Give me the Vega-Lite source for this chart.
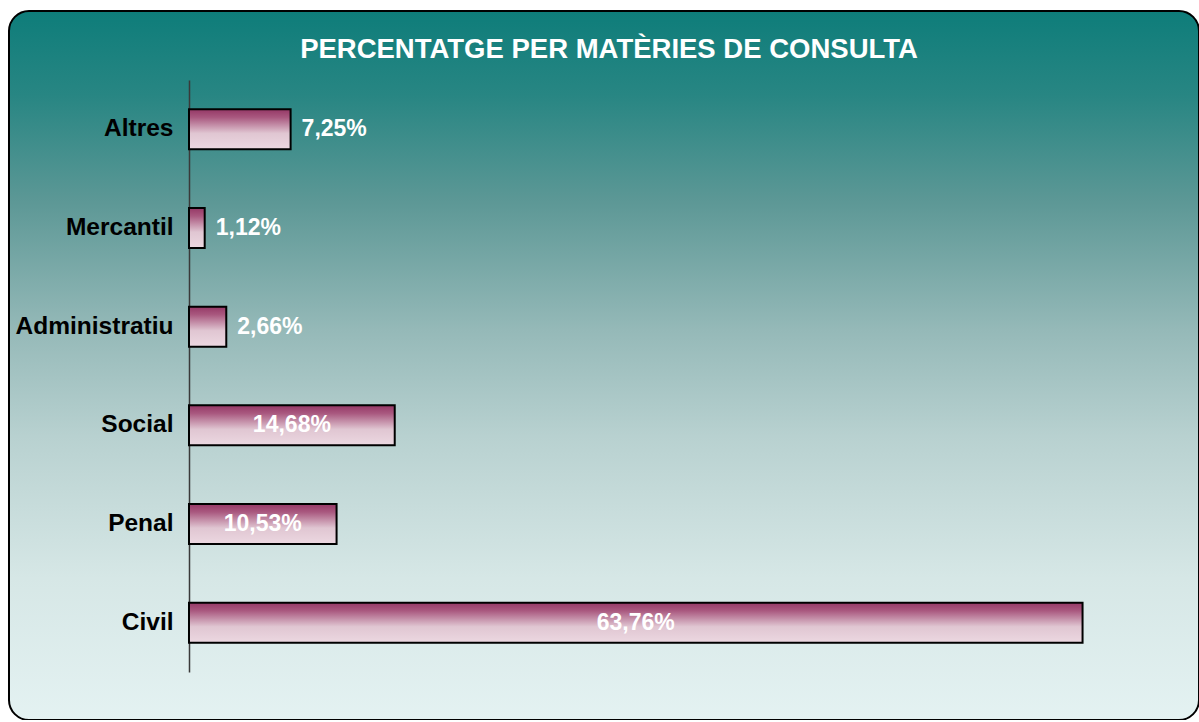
{
  "$schema": "https://vega.github.io/schema/vega-lite/v6.json",
  "width": 1190,
  "height": 709,
  "autosize": {"type": "none"},
  "padding": {"left": 9, "top": 11, "right": 0, "bottom": 0},
  "background": "white",
  "view": {
    "fill": {
      "gradient": "linear", "x1": 0, "y1": 0, "x2": 0, "y2": 1,
      "stops": [
        {"offset": 0, "color": "#0e7d7a"},
        {"offset": 0.12, "color": "#288683"},
        {"offset": 0.27, "color": "#5d9896"},
        {"offset": 0.45, "color": "#95b9b8"},
        {"offset": 0.6, "color": "#b8d1d0"},
        {"offset": 0.8, "color": "#d6e7e6"},
        {"offset": 1, "color": "#e4f2f2"}
      ]
    },
    "stroke": "black",
    "strokeWidth": 2,
    "cornerRadius": 20
  },
  "title": {
    "text": "PERCENTATGE PER MATÈRIES DE CONSULTA",
    "color": "white",
    "font": "Liberation Sans",
    "fontSize": 27.5,
    "fontWeight": "bold",
    "anchor": "middle",
    "frame": "group",
    "baseline": "alphabetic",
    "offset": -74,
    "dx": 5
  },
  "data": {
    "values": [
      {"materia": "Altres", "pct": 7.25, "label": "7,25%"},
      {"materia": "Mercantil", "pct": 1.12, "label": "1,12%"},
      {"materia": "Administratiu", "pct": 2.66, "label": "2,66%"},
      {"materia": "Social", "pct": 14.68, "label": "14,68%"},
      {"materia": "Penal", "pct": 10.53, "label": "10,53%"},
      {"materia": "Civil", "pct": 63.76, "label": "63,76%"}
    ]
  },
  "encoding": {
    "y": {
      "field": "materia",
      "type": "nominal",
      "sort": null,
      "scale": {"range": [69, 661], "paddingInner": 0.595, "paddingOuter": 0.2975},
      "axis": {
        "title": null,
        "orient": "left",
        "offset": -180,
        "ticks": false,
        "labelPadding": 16,
        "labelFont": "Liberation Sans",
        "labelFontSize": 24.5,
        "labelFontWeight": "bold",
        "labelColor": "black",
        "labelLimit": 0,
        "domainColor": "#3a3a3a",
        "domainWidth": 1.5,
        "grid": false
      }
    }
  },
  "layer": [
    {
      "mark": {
        "type": "bar",
        "stroke": "black",
        "strokeWidth": 2,
        "fill": {
          "gradient": "linear", "x1": 0, "y1": 0, "x2": 0, "y2": 1,
          "stops": [
            {"offset": 0, "color": "#953866"},
            {"offset": 0.2, "color": "#a9587f"},
            {"offset": 0.6, "color": "#e0c6d2"},
            {"offset": 1, "color": "#ecd8e1"}
          ]
        }
      },
      "encoding": {
        "x": {
          "field": "pct",
          "type": "quantitative",
          "scale": {"domain": [0, 70], "range": [180, 1161], "nice": false, "zero": true},
          "axis": null
        }
      }
    },
    {
      "transform": [
        {"filter": "datum.pct >= 10"},
        {"calculate": "datum.pct / 2", "as": "mid"}
      ],
      "mark": {
        "type": "text",
        "color": "white",
        "font": "Liberation Sans",
        "fontSize": 23,
        "fontWeight": "bold",
        "align": "center",
        "baseline": "middle"
      },
      "encoding": {
        "x": {"field": "mid", "type": "quantitative"},
        "text": {"field": "label"}
      }
    },
    {
      "transform": [{"filter": "datum.pct < 10"}],
      "mark": {
        "type": "text",
        "color": "white",
        "font": "Liberation Sans",
        "fontSize": 23,
        "fontWeight": "bold",
        "align": "left",
        "baseline": "middle",
        "dx": 11
      },
      "encoding": {
        "x": {"field": "pct", "type": "quantitative"},
        "text": {"field": "label"}
      }
    }
  ]
}
